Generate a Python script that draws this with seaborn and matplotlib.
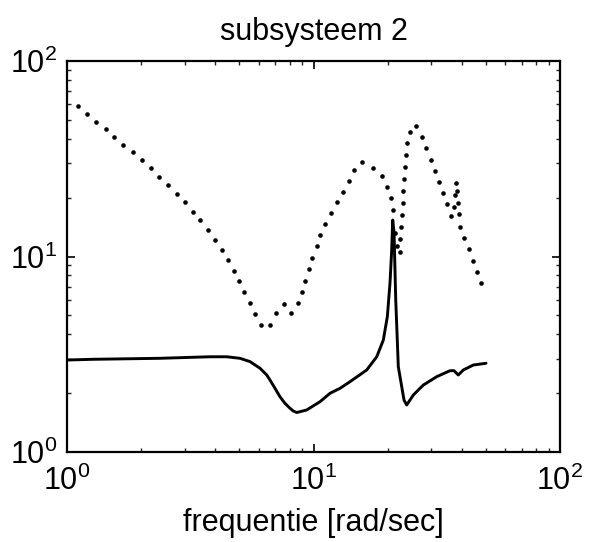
import matplotlib
matplotlib.use("Agg")
import matplotlib.pyplot as plt
import seaborn as sns
import pandas as pd
from matplotlib.ticker import LogLocator, LogFormatterSciNotation, NullFormatter

# ---- data ----
freq_dotted = [1.105, 1.205, 1.311, 1.435, 1.556, 1.692, 1.847, 2.009, 2.186, 2.362,
               2.569, 2.786, 3.011, 3.236, 3.464, 3.722, 3.975, 4.243, 4.512, 4.758,
               5.0, 5.24, 5.526, 5.79, 6.107, 6.66, 7.025, 7.57, 8.08, 8.63,
               8.96, 9.26, 9.56, 9.89, 10.3, 10.66, 11.17, 11.74, 12.49, 13.21,
               13.93, 14.6, 15.78, 17.43, 18.96, 19.93, 20.57, 21.01, 21.41, 21.81,
               22.33, 22.5, 22.71, 22.86, 23.01, 23.14, 23.36, 23.51, 23.73, 24.02,
               24.57, 26.12, 27.63, 28.68, 29.89, 30.97, 32.38, 33.62, 34.9, 36.2,
               37.15, 37.5, 37.85, 38.1, 38.4, 38.82, 39.4, 40.9, 42.74, 44.5,
               46.05, 47.9]
mag_dotted = [58.9, 53.6, 48.9, 44.7, 41.0, 37.3, 34.1, 31.1, 28.3, 25.5,
              23.2, 20.95, 18.9, 16.95, 15.3, 13.66, 12.15, 10.8, 9.6, 8.46,
              7.49, 6.56, 5.78, 5.08, 4.48, 4.48, 5.12, 5.71, 5.12, 5.76,
              6.56, 7.49, 8.6, 9.86, 11.3, 12.88, 14.7, 16.7, 18.9, 21.45,
              24.3, 27.6, 30.4, 28.5, 25.8, 22.75, 19.85, 17.3, 13.19, 11.32,
              10.58, 12.29, 14.21, 16.24, 18.71, 21.63, 24.83, 28.6, 32.9, 37.9,
              43.5, 46.4, 40.9, 35.8, 31.3, 27.5, 24.1, 21.05, 18.45, 16.17,
              17.92, 20.6, 23.85, 21.6, 18.85, 16.4, 14.2, 12.39, 10.89, 9.48,
              8.33, 7.3]

freq_solid = [1.003, 1.278, 2.384, 3.80, 4.445, 5.03, 5.526, 6.07, 6.46, 6.66,
              6.98, 7.31, 7.66, 8.03, 8.28, 8.55, 9.38, 10.63, 11.67, 12.81,
              14.07, 16.44, 18.05, 19.2, 19.93, 20.43, 20.76, 20.96, 21.22, 21.56,
              22.08, 22.8, 23.29, 23.88, 25.41, 27.89, 31.61, 35.8, 37.15, 38.67,
              40.53, 44.5, 50.1]
mag_solid = [2.955, 2.98, 3.015, 3.07, 3.07, 3.015, 2.90, 2.68, 2.477, 2.335,
             2.117, 1.918, 1.774, 1.673, 1.621, 1.592, 1.64, 1.809, 1.997, 2.117,
             2.29, 2.627, 3.07, 3.74, 4.92, 7.30, 10.8, 15.37, 13.19, 5.99,
             2.73, 2.158, 1.845, 1.74, 1.957, 2.20, 2.428, 2.606, 2.606, 2.477,
             2.627, 2.786, 2.843]

title_text = "subsysteem 2"
xlabel_text = "frequentie [rad/sec]"

sns.set_theme(style="ticks")
plt.rcParams["font.family"] = ["Liberation Sans", "DejaVu Sans"]
plt.rcParams["mathtext.default"] = "regular"
plt.rcParams["text.color"] = "black"
plt.rcParams["axes.labelcolor"] = "black"

fig = plt.figure(figsize=(5.98, 5.42), dpi=100)
ax = fig.add_axes([67 / 598, 1 - 452 / 542, (560 - 67) / 598, (452 - 61) / 542])

df_dot = pd.DataFrame({"f": freq_dotted, "m": mag_dotted})
df_sol = pd.DataFrame({"f": freq_solid, "m": mag_solid})

# dotted series: drawn as the individual dots of the dotted trace
sns.lineplot(data=df_dot, x="f", y="m", ax=ax, color="black",
             linestyle="none", marker="o", markersize=3.3, markeredgewidth=0,
             sort=False, estimator=None)
sns.lineplot(data=df_sol, x="f", y="m", ax=ax, color="black", lw=2.1,
             sort=False, estimator=None)

ax.set_xscale("log")
ax.set_yscale("log")
ax.set_xlim(1, 100)
ax.set_ylim(1, 100)

for axis in (ax.xaxis, ax.yaxis):
    axis.set_major_locator(LogLocator(base=10, numticks=10))
    axis.set_major_formatter(LogFormatterSciNotation())
    axis.set_minor_locator(LogLocator(base=10, subs=range(2, 10), numticks=20))
    axis.set_minor_formatter(NullFormatter())

ax.tick_params(which="major", direction="in", length=6, width=1.2,
               top=True, right=True, labelsize=22, colors="black")
ax.tick_params(which="minor", direction="in", length=3, width=1.0,
               top=True, right=True)
ax.tick_params(axis="x", which="major", pad=10)
ax.tick_params(axis="y", which="major", pad=7)

for s in ax.spines.values():
    s.set_linewidth(1.6)
    s.set_color("black")

ax.set_title(title_text, fontsize=22, pad=15, color="black")
ax.set_xlabel(xlabel_text, fontsize=22, labelpad=8, color="black")
ax.set_ylabel("")

fig.savefig("out.png", dpi=100, facecolor="white")
